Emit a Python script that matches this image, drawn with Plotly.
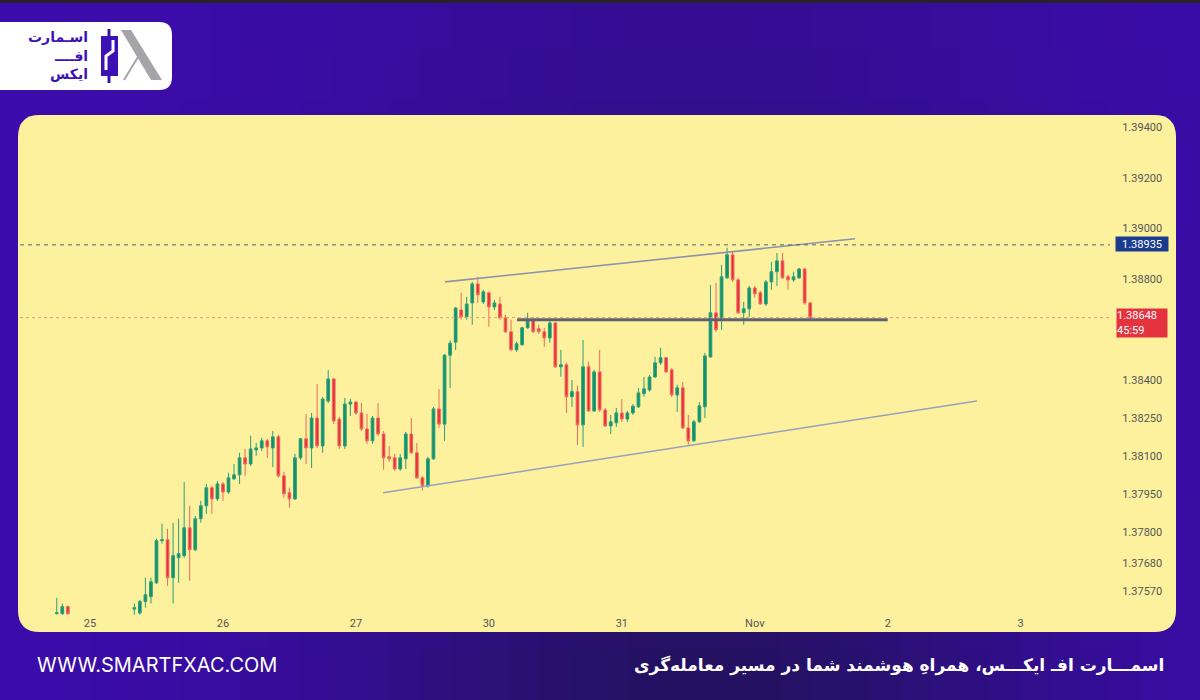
import math
import plotly.graph_objects as go

W, H = 1200, 700


def px(x):
    return x / W


def py(y):
    return 1 - y / H


# ---------------- data (USDCAD, 1h candles) ----------------
bar_index = [-6, -5, -4, 8, 9, 10, 11, 12, 13, 14, 15, 16, 17, 18, 19, 20, 21, 22, 23, 24,
             25, 26, 27, 28, 29, 30, 31, 32, 33, 34, 35, 36, 37, 38, 39, 40, 41, 42, 43, 44,
             45, 46, 47, 48, 49, 50, 51, 52, 53, 54, 55, 56, 57, 58, 59, 60, 61, 62, 63, 64,
             65, 66, 67, 68, 69, 70, 71, 72, 73, 74, 75, 76, 77, 78, 79, 80, 81, 82, 83, 84,
             85, 86, 87, 88, 89, 90, 91, 92, 93, 94, 95, 96, 97, 98, 99, 100, 101, 102, 103, 104,
             105, 106, 107, 108, 109, 110, 111, 112, 113, 114, 115, 116, 117, 118, 119, 120, 121, 122, 123, 124,
             125, 126, 127, 128, 129, 130]

open_ = [1.37480, 1.37480, 1.37508, 1.37498, 1.37483, 1.37528, 1.37547, 1.37602, 1.37768, 1.37772,
         1.37622, 1.37701, 1.37709, 1.37819, 1.37732, 1.37855, 1.37906, 1.37977, 1.37933, 1.37992,
         1.37960, 1.38012, 1.38028, 1.38095, 1.38071, 1.38126, 1.38134, 1.38162, 1.38134, 1.38178,
         1.38024, 1.37957, 1.37933, 1.38095, 1.38170, 1.38134, 1.38252, 1.38142, 1.38319, 1.38406,
         1.38248, 1.38142, 1.38307, 1.38315, 1.38272, 1.38209, 1.38162, 1.38252, 1.38189, 1.38099,
         1.38095, 1.38051, 1.38091, 1.38189, 1.38115, 1.38016, 1.37985, 1.38091, 1.38288, 1.38228,
         1.38500, 1.38551, 1.38678, 1.38651, 1.38706, 1.38781, 1.38710, 1.38746, 1.38690, 1.38702,
         1.38647, 1.38592, 1.38521, 1.38541, 1.38608, 1.38640, 1.38604, 1.38592, 1.38568, 1.38627,
         1.38454, 1.38462, 1.38336, 1.38356, 1.38225, 1.38454, 1.38280, 1.38434, 1.38284, 1.38221,
         1.38233, 1.38272, 1.38248, 1.38272, 1.38296, 1.38348, 1.38363, 1.38414, 1.38470, 1.38490,
         1.38442, 1.38343, 1.38371, 1.38213, 1.38162, 1.38237, 1.38296, 1.38493, 1.38667, 1.38647,
         1.38805, 1.38896, 1.38797, 1.38667, 1.38683, 1.38765, 1.38746, 1.38702, 1.38789, 1.38829,
         1.38872, 1.38809, 1.38797, 1.38805, 1.38840, 1.38706]

high = [1.37543, 1.37520, 1.37512, 1.37520, 1.37535, 1.37622, 1.37622, 1.37776, 1.37835, 1.37815,
        1.37839, 1.37855, 1.37999, 1.37906, 1.37866, 1.37925, 1.37992, 1.37985, 1.38004, 1.38000,
        1.38036, 1.38071, 1.38115, 1.38130, 1.38182, 1.38154, 1.38174, 1.38170, 1.38201, 1.38186,
        1.38040, 1.37977, 1.38111, 1.38174, 1.38268, 1.38272, 1.38386, 1.38335, 1.38441, 1.38410,
        1.38256, 1.38331, 1.38327, 1.38319, 1.38311, 1.38268, 1.38260, 1.38311, 1.38201, 1.38142,
        1.38111, 1.38111, 1.38197, 1.38252, 1.38154, 1.38024, 1.38099, 1.38296, 1.38366, 1.38504,
        1.38559, 1.38690, 1.38746, 1.38730, 1.38789, 1.38809, 1.38758, 1.38750, 1.38718, 1.38730,
        1.38659, 1.38640, 1.38553, 1.38612, 1.38667, 1.38651, 1.38620, 1.38608, 1.38640, 1.38631,
        1.38521, 1.38470, 1.38402, 1.38380, 1.38560, 1.38474, 1.38442, 1.38521, 1.38292, 1.38264,
        1.38292, 1.38327, 1.38280, 1.38307, 1.38370, 1.38414, 1.38422, 1.38493, 1.38529, 1.38493,
        1.38450, 1.38383, 1.38394, 1.38264, 1.38245, 1.38315, 1.38509, 1.38777, 1.38785, 1.38856,
        1.38924, 1.38911, 1.38805, 1.38710, 1.38773, 1.38773, 1.38754, 1.38797, 1.38868, 1.38903,
        1.38903, 1.38817, 1.38829, 1.38844, 1.38844, 1.38710]

low = [1.37478, 1.37476, 1.37476, 1.37476, 1.37476, 1.37504, 1.37520, 1.37598, 1.37756, 1.37590,
       1.37520, 1.37602, 1.37701, 1.37610, 1.37728, 1.37839, 1.37874, 1.37874, 1.37925, 1.37925,
       1.37953, 1.38008, 1.37992, 1.38024, 1.38063, 1.38103, 1.38122, 1.38095, 1.38059, 1.38016,
       1.37937, 1.37898, 1.37929, 1.38087, 1.38071, 1.38055, 1.38134, 1.38115, 1.38311, 1.38228,
       1.38130, 1.38130, 1.38260, 1.38264, 1.38201, 1.38150, 1.38150, 1.38181, 1.38048, 1.38079,
       1.38044, 1.38044, 1.38051, 1.38111, 1.38012, 1.37965, 1.37977, 1.38087, 1.38213, 1.38162,
       1.38370, 1.38520, 1.38640, 1.38640, 1.38620, 1.38706, 1.38702, 1.38612, 1.38678, 1.38640,
       1.38588, 1.38517, 1.38513, 1.38537, 1.38604, 1.38588, 1.38584, 1.38533, 1.38549, 1.38450,
       1.38415, 1.38272, 1.38296, 1.38146, 1.38138, 1.38276, 1.38276, 1.38276, 1.38217, 1.38189,
       1.38217, 1.38237, 1.38237, 1.38264, 1.38292, 1.38336, 1.38356, 1.38410, 1.38462, 1.38430,
       1.38336, 1.38276, 1.38209, 1.38146, 1.38158, 1.38233, 1.38252, 1.38490, 1.38592, 1.38600,
       1.38801, 1.38789, 1.38663, 1.38620, 1.38651, 1.38726, 1.38699, 1.38694, 1.38758, 1.38773,
       1.38801, 1.38758, 1.38789, 1.38801, 1.38699, 1.38643]

close = [1.37484, 1.37508, 1.37480, 1.37504, 1.37528, 1.37555, 1.37606, 1.37768, 1.37772, 1.37622,
         1.37709, 1.37717, 1.37819, 1.37732, 1.37855, 1.37906, 1.37977, 1.37933, 1.37992, 1.37960,
         1.38016, 1.38028, 1.38095, 1.38071, 1.38130, 1.38134, 1.38162, 1.38138, 1.38178, 1.38024,
         1.37953, 1.37933, 1.38095, 1.38170, 1.38134, 1.38252, 1.38142, 1.38327, 1.38406, 1.38240,
         1.38142, 1.38307, 1.38315, 1.38272, 1.38209, 1.38162, 1.38252, 1.38189, 1.38095, 1.38091,
         1.38051, 1.38095, 1.38189, 1.38115, 1.38016, 1.37985, 1.38091, 1.38288, 1.38228, 1.38500,
         1.38547, 1.38686, 1.38651, 1.38702, 1.38781, 1.38738, 1.38750, 1.38690, 1.38706, 1.38647,
         1.38592, 1.38521, 1.38545, 1.38608, 1.38635, 1.38592, 1.38592, 1.38568, 1.38627, 1.38454,
         1.38462, 1.38336, 1.38356, 1.38225, 1.38454, 1.38280, 1.38434, 1.38284, 1.38221, 1.38237,
         1.38272, 1.38248, 1.38272, 1.38299, 1.38351, 1.38367, 1.38414, 1.38470, 1.38490, 1.38434,
         1.38343, 1.38371, 1.38213, 1.38162, 1.38237, 1.38300, 1.38497, 1.38667, 1.38600, 1.38809,
         1.38896, 1.38797, 1.38667, 1.38683, 1.38765, 1.38742, 1.38702, 1.38789, 1.38829, 1.38872,
         1.38805, 1.38797, 1.38809, 1.38840, 1.38706, 1.38648]

day_ticks = [0, 24, 48, 72, 96, 120, 144, 168]
day_labels = ["25", "26", "27", "30", "31", "Nov", "2", "3"]

price_ticks = [1.39400, 1.39200, 1.39000, 1.38800, 1.38400, 1.38250,
               1.38100, 1.37950, 1.37800, 1.37680, 1.37570]
price_labels = [f"{v:.5f}" for v in price_ticks]

upper_channel_x = [64.1, 138.1]
upper_channel_y = [1.38789, 1.38959]
lower_channel_x = [52.9, 160.1]
lower_channel_y = [1.37957, 1.38319]
support_x = [77.1, 144.0]
support_level = 1.38640
resistance_level = 1.38935
last_price = 1.38648
countdown = "45:59"

# ---------------- layout geometry ----------------
PLOT_L, PLOT_R, PLOT_T, PLOT_B = 20, 1110, 117, 615
X_RANGE = [-12.635, 184.12]
Y_RANGE = [1.37475, 1.394394]

shapes = []

# background gradient (decoration)
edge = (60, 12, 172)
dark = (36, 18, 96)
cols, rows = 40, 14
for i in range(cols):
    for j in range(rows):
        cx = (i + 0.5) * W / cols
        cy = (j + 0.5) * H / rows
        d = math.exp(-((cx - 700) / 360) ** 2) * (0.3 + 0.7 * cy / H)
        c = tuple(int(edge[k] * (1 - d) + dark[k] * d) for k in range(3))
        shapes.append(dict(type="rect", xref="paper", yref="paper", layer="below",
                           x0=px(i * W / cols), x1=px((i + 1) * W / cols + 1),
                           y0=py((j + 1) * H / rows + 1), y1=py(j * H / rows),
                           line=dict(width=0), fillcolor=f"rgb{c}"))

# top dark strip
shapes.append(dict(type="rect", xref="paper", yref="paper", layer="below",
                   x0=0, x1=1, y0=py(3), y1=1, line=dict(width=0), fillcolor="#26242a"))


def rounded_path(x0, y0, x1, y1, r):
    pts = [
        ("M", [(x0 + r, y0)]), ("L", [(x1 - r, y0)]), ("Q", [(x1, y0), (x1, y0 + r)]),
        ("L", [(x1, y1 - r)]), ("Q", [(x1, y1), (x1 - r, y1)]),
        ("L", [(x0 + r, y1)]), ("Q", [(x0, y1), (x0, y1 - r)]),
        ("L", [(x0, y0 + r)]), ("Q", [(x0, y0), (x0 + r, y0)]),
    ]
    s = ""
    for cmd, ps in pts:
        s += cmd + " " + " ".join(f"{px(a):.5f},{py(b):.5f}" for a, b in ps) + " "
    return s + "Z"


# yellow chart card
shapes.append(dict(type="path", xref="paper", yref="paper", layer="below",
                   path=rounded_path(18, 115, 1176, 632, 22),
                   line=dict(width=0), fillcolor="#fdf19e"))
# logo card
shapes.append(dict(type="path", xref="paper", yref="paper", layer="below",
                   path=rounded_path(-30, 22, 172, 90, 13),
                   line=dict(width=0), fillcolor="#ffffff"))

# logo icon (decoration)
purple = "#3d12b4"
shapes.append(dict(type="line", xref="paper", yref="paper", x0=px(109), x1=px(109),
                   y0=py(29), y1=py(83), line=dict(color=purple, width=3)))
shapes.append(dict(type="rect", xref="paper", yref="paper", x0=px(101), x1=px(118),
                   y0=py(76), y1=py(36), line=dict(width=0), fillcolor=purple))
shapes.append(dict(type="path", xref="paper", yref="paper",
                   path=f"M {px(113)},{py(40)} L {px(113)},{py(51)} L {px(106)},{py(56)} L {px(106)},{py(70)}",
                   line=dict(color="white", width=3)))
shapes.append(dict(type="path", xref="paper", yref="paper",
                   path=f"M {px(121)},{py(30)} L {px(131)},{py(30)} L {px(162)},{py(80)} L {px(151)},{py(80)} Z",
                   line=dict(width=0), fillcolor="#a5a5a8"))
shapes.append(dict(type="line", xref="paper", yref="paper", x0=px(141), x1=px(124),
                   y0=py(52), y1=py(80), line=dict(color="#a5a5a8", width=2)))

# chart drawings tied to price
shapes.append(dict(type="line", xref="paper", yref="y", x0=px(PLOT_L), x1=px(PLOT_R),
                   y0=last_price, y1=last_price, line=dict(color="#e99a7a", width=1, dash="dot")))
shapes.append(dict(type="line", xref="paper", yref="y", x0=px(PLOT_L), x1=px(PLOT_R),
                   y0=resistance_level, y1=resistance_level,
                   line=dict(color="#5c6270", width=1, dash="4px,4px")))

fig = go.Figure()

fig.add_trace(go.Candlestick(
    x=bar_index, open=open_, high=high, low=low, close=close,
    increasing=dict(line=dict(color="#2a9e7a", width=1), fillcolor="#11906a"),
    decreasing=dict(line=dict(color="#ee6a5e", width=1), fillcolor="#e8303c"),
    whiskerwidth=0, hoverinfo="skip", showlegend=False))

fig.add_trace(go.Scatter(x=upper_channel_x, y=upper_channel_y, mode="lines",
                         line=dict(color="#8a92ac", width=1.6), hoverinfo="skip", showlegend=False))
fig.add_trace(go.Scatter(x=lower_channel_x, y=lower_channel_y, mode="lines",
                         line=dict(color="#97a1bd", width=1.6), hoverinfo="skip", showlegend=False))
fig.add_trace(go.Scatter(x=support_x, y=[support_level, support_level], mode="lines",
                         line=dict(color="#5d6270", width=3), hoverinfo="skip", showlegend=False))

annotations = [
    dict(x=px(1141.5), y=py(243.5), xref="paper", yref="paper", xanchor="center", yanchor="middle",
         text=f"{resistance_level:.5f}",
         showarrow=False, font=dict(color="white", size=11, family="Roboto"),
         bgcolor="#1b3b8f", width=52, height=14, borderpad=0),
    dict(x=px(1141.5), y=py(323), xref="paper", yref="paper", xanchor="center", yanchor="middle",
         text=f"{last_price:.5f}<br>{countdown}", align="left",
         showarrow=False, font=dict(color="white", size=11, family="Roboto"),
         bgcolor="#e5323f", width=50, height=28, borderpad=0),
    dict(x=px(35), y=py(665), xref="paper", yref="paper", xanchor="left", yanchor="middle",
         text="WWW.SMARTFXAC.COM", showarrow=False,
         font=dict(color="white", size=20, family="Inter")),
    dict(x=px(1166), y=py(665), xref="paper", yref="paper", xanchor="right", yanchor="middle",
         text="<b>اسمـــارت افـ ایکـــس، همراهِ هوشمند شما در مسیر معامله‌گری</b>",
         showarrow=False, font=dict(color="white", size=17, family="DejaVu Sans")),
    dict(x=px(90), y=py(37), xref="paper", yref="paper", xanchor="right", yanchor="middle",
         text="<b>اسـمارت</b>", showarrow=False, font=dict(color=purple, size=14, family="DejaVu Sans")),
    dict(x=px(90), y=py(56), xref="paper", yref="paper", xanchor="right", yanchor="middle",
         text="<b>افــــ</b>", showarrow=False, font=dict(color=purple, size=14, family="DejaVu Sans")),
    dict(x=px(90), y=py(74), xref="paper", yref="paper", xanchor="right", yanchor="middle",
         text="<b>ایکس</b>", showarrow=False, font=dict(color=purple, size=14, family="DejaVu Sans")),
]

fig.update_layout(
    width=W, height=H,
    margin=dict(l=0, r=0, t=0, b=0),
    paper_bgcolor="#36109e",
    plot_bgcolor="rgba(0,0,0,0)",
    shapes=shapes,
    annotations=annotations,
    showlegend=False,
    xaxis=dict(domain=[px(PLOT_L), px(PLOT_R)], range=X_RANGE, rangeslider=dict(visible=False),
               tickvals=day_ticks, ticktext=day_labels, showgrid=False, zeroline=False,
               showline=False, ticks="", tickfont=dict(size=11, color="#555555", family="Roboto")),
    yaxis=dict(domain=[py(PLOT_B), py(PLOT_T)], range=Y_RANGE, side="right",
               tickvals=price_ticks, ticktext=price_labels, showgrid=False, zeroline=False,
               showline=False, ticks="outside", ticklen=9, tickcolor="rgba(0,0,0,0)",
               tickfont=dict(size=11, color="#555555", family="Roboto")),
)

fig.write_html("out.html")
